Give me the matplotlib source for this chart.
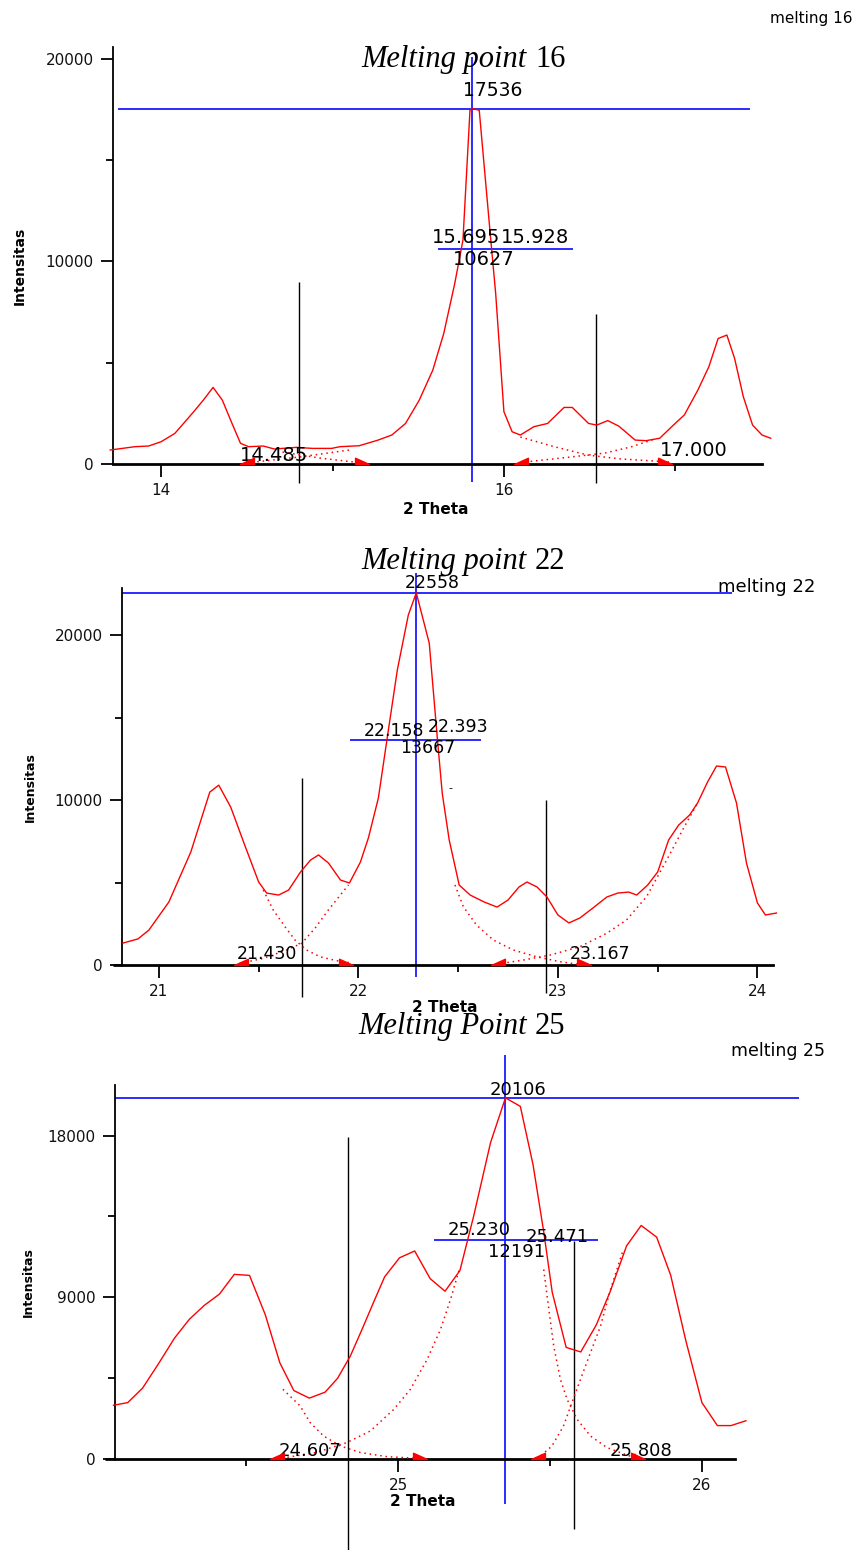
import numpy as np
import matplotlib.pyplot as plt

W, H = 857, 1550

# ---------------- melting point 16 ----------------
x16 = [13.703, 13.847, 13.927, 14.000, 14.080, 14.182, 14.246, 14.303, 14.357, 14.405,
       14.463, 14.510, 14.596, 14.660, 14.788, 14.884, 14.995, 15.043, 15.155, 15.266,
       15.346, 15.426, 15.506, 15.585, 15.649, 15.713, 15.761, 15.802, 15.815, 15.856,
       15.920, 15.952, 16.000, 16.048, 16.096, 16.175, 16.255, 16.351, 16.399, 16.494,
       16.542, 16.606, 16.670, 16.766, 16.829, 16.909, 16.989, 17.053, 17.132, 17.196,
       17.250, 17.301, 17.346, 17.397, 17.451, 17.506, 17.557]
y16 = [690, 854, 887, 1100, 1510, 2500, 3150, 3780, 3150, 2170,
       1020, 854, 887, 740, 820, 770, 770, 854, 900, 1180,
       1430, 2000, 3150, 4630, 6440, 8900, 11040, 17450, 17536, 17450,
       11370, 8410, 2580, 1590, 1430, 1840, 2000, 2790, 2790, 2000,
       1920, 2140, 1870, 1180, 1150, 1270, 1920, 2420, 3650, 4800,
       6190, 6360, 5210, 3320, 1920, 1430, 1270]
fits16 = [([14.499, 14.807, 15.098], [50, 345, 690]),
          ([14.708, 14.923, 15.173], [590, 296, 50]),
          ([16.096, 16.30, 16.49, 16.68, 16.97], [1330, 840, 440, 250, 100]),
          ([16.125, 16.39, 16.59, 16.74, 16.88], [100, 345, 540, 840, 1230])]
mk16_left = [14.50, 16.10]
mk16_right = [15.17, 16.94]

# ---------------- melting point 22 ----------------
x22 = [20.82, 20.895, 20.95, 21.05, 21.16, 21.255, 21.30, 21.36, 21.43, 21.50,
       21.54, 21.60, 21.65, 21.71, 21.76, 21.80, 21.85, 21.91, 21.955, 22.01,
       22.05, 22.10, 22.145, 22.195, 22.25, 22.29, 22.355, 22.395, 22.42, 22.455,
       22.505, 22.56, 22.63, 22.695, 22.75, 22.805, 22.845, 22.895, 22.945, 23.0,
       23.055, 23.11, 23.175, 23.245, 23.30, 23.355, 23.395, 23.45, 23.50, 23.555,
       23.605, 23.66, 23.70, 23.75, 23.795, 23.84, 23.895, 23.945, 24.0, 24.04, 24.095]
y22 = [1330, 1580, 2120, 3820, 6850, 10480, 10900, 9570, 7270, 5030,
       4360, 4240, 4540, 5640, 6360, 6670, 6180, 5150, 4970, 6240,
       7700, 10120, 13820, 17880, 21210, 22558, 19510, 13820, 10420, 7580,
       4850, 4240, 3820, 3510, 3940, 4730, 5030, 4730, 4120, 3030,
       2550, 2850, 3450, 4120, 4360, 4420, 4240, 4850, 5640, 7580,
       8480, 9090, 9820, 11090, 12060, 12000, 9820, 6180, 3760, 3030, 3150]
fits22 = [([21.523, 21.573, 21.632, 21.682, 21.740, 21.807, 21.891, 21.958],
           [4545, 3330, 2320, 1515, 910, 500, 260, 140]),
          ([21.406, 21.523, 21.640, 21.715, 21.782, 21.849, 21.916, 21.95],
           [100, 400, 910, 1310, 2220, 3330, 4340, 4850]),
          ([22.484, 22.526, 22.592, 22.676, 22.776, 22.893, 23.01, 23.127],
           [4850, 3530, 2420, 1515, 910, 500, 200, 0]),
          ([22.667, 22.826, 22.960, 23.110, 23.244, 23.344, 23.444, 23.545, 23.63, 23.70],
           [0, 300, 600, 1110, 1920, 2730, 4140, 6360, 8300, 9820])]
mk22_left = [21.41, 22.70]
mk22_right = [21.94, 23.13]

# ---------------- melting point 25 ----------------
x25 = [24.062, 24.109, 24.158, 24.212, 24.263, 24.312, 24.361, 24.411, 24.460, 24.510,
       24.562, 24.610, 24.656, 24.707, 24.759, 24.800, 24.842, 24.882, 24.918, 24.955,
       25.004, 25.054, 25.105, 25.154, 25.203, 25.248, 25.304, 25.353, 25.402, 25.444,
       25.480, 25.507, 25.553, 25.601, 25.652, 25.697, 25.752, 25.800, 25.851, 25.897,
       25.947, 26.000, 26.051, 26.096, 26.145]
y25 = [2990, 3140, 3950, 5350, 6730, 7780, 8550, 9180, 10280, 10220,
       8030, 5350, 3810, 3390, 3720, 4490, 5730, 7270, 8700, 10140,
       11200, 11580, 10040, 9340, 10490, 13500, 17620, 20106, 19630, 16370,
       12540, 9280, 6210, 5960, 7460, 9280, 11870, 13000, 12350, 10240,
       6590, 3140, 1860, 1860, 2130]
fits25 = [([24.62, 24.677, 24.71, 24.754, 24.81, 24.875, 24.963, 25.083],
           [3880, 2950, 2020, 1280, 720, 360, 130, 20]),
          ([24.60, 24.73, 24.83, 24.908, 24.985, 25.04, 25.095, 25.139, 25.172, 25.20],
           [0, 360, 910, 1560, 2760, 3880, 5540, 7210, 8880, 10500]),
          ([25.479, 25.496, 25.512, 25.534, 25.556, 25.589, 25.633, 25.688, 25.776],
           [10550, 8320, 6280, 4430, 3320, 2210, 1280, 630, 80]),
          ([25.457, 25.506, 25.544, 25.572, 25.60, 25.633, 25.666, 25.699, 25.74],
           [0, 720, 1830, 3140, 4430, 5920, 7400, 9440, 11600])]
mk25_left = [24.60, 25.46]
mk25_right = [25.07, 25.79]

RED = '#ff0000'
BLUE = '#1a1aff'
left_tri = [(1, 0), (1, 0.9), (-1, 0), (1, 0)]
right_tri = [(-1, 0), (-1, 0.9), (1, 0), (-1, 0)]

fig = plt.figure(figsize=(W / 100, H / 100), dpi=100)


def add_ax(l, r, t, b):
    return fig.add_axes([l / W, 1 - b / H, (r - l) / W, (b - t) / H])


def ftext(px, py, s, **kw):
    fig.text(px / W, 1 - py / H, s, **kw)


def style(ax, xlim, ylim, xmaj, xmin, ymaj, ymin, x_start):
    ax.set_xlim(xlim)
    ax.set_ylim(ylim)
    ax.patch.set_visible(False)
    ax.spines['top'].set_visible(False)
    ax.spines['right'].set_visible(False)
    ax.spines['left'].set_linewidth(1.3)
    ax.spines['bottom'].set_linewidth(2)
    # x axis line runs a little to the left of the y spine
    ax.plot([x_start, xlim[0]], [0, 0], color='black', lw=2, clip_on=False,
            solid_capstyle='butt')
    ax.set_xticks(xmaj)
    ax.set_xticks(xmin, minor=True)
    ax.set_yticks(ymaj)
    ax.set_yticks(ymin, minor=True)
    ax.set_xticklabels([str(v) for v in xmaj])
    ax.set_yticklabels([str(v) for v in ymaj])
    ax.tick_params(which='major', length=9, width=1.3, labelsize=11, pad=5,
                   labelcolor='#111111')
    ax.tick_params(which='minor', length=5, width=1.3)


def panel(ax, x, y, fits, mk_l, mk_r):
    ax.plot(x, y, color=RED, lw=1.0, clip_on=False, zorder=3)
    for fx, fy in fits:
        ax.plot(fx, fy, color=RED, lw=1.1, ls=(0, (1, 2.5)), clip_on=False, zorder=3)
    ax.plot(mk_l, [0] * len(mk_l), ls='none', marker=left_tri, ms=10,
            color=RED, clip_on=False, zorder=4)
    ax.plot(mk_r, [0] * len(mk_r), ls='none', marker=right_tri, ms=10,
            color=RED, clip_on=False, zorder=4)


# ---- panel 1 ----
ax1 = add_ax(113, 762, 47, 464)
style(ax1, (13.719, 17.506), (0, 20570), [14, 16], [15, 17],
      [0, 10000, 20000], [5000, 15000], 13.719)
panel(ax1, x16, y16, fits16, mk16_left, mk16_right)
ax1.hlines(17536, 13.751, 17.435, color=BLUE, lw=1.3, clip_on=False)
ax1.vlines(15.815, -870, 20080, color=BLUE, lw=1.3, clip_on=False)
ax1.hlines(10627, 15.617, 16.405, color=BLUE, lw=1.3, clip_on=False)
ax1.vlines([14.807, 16.536], [-920, -920], [8990, 7390], color='black', lw=1.0, clip_on=False)
ax1.text(15.936, 18400, '17536', ha='center', va='center', fontsize=13.5)
ax1.text(15.777, 11150, '15.695', ha='center', va='center', fontsize=14)
ax1.text(16.18, 11150, '15.928', ha='center', va='center', fontsize=14)
ax1.text(15.882, 10090, '10627', ha='center', va='center', fontsize=14)
ax1.text(14.66, 440, '14.485', ha='center', va='center', fontsize=14)
ax1.text(17.107, 660, '17.000', ha='center', va='center', fontsize=14)

# ---- panel 2 ----
ax2 = add_ax(122, 773, 588, 965)
style(ax2, (20.815, 24.078), (0, 22850), [21, 22, 23, 24], [21.5, 22.5, 23.5],
      [0, 10000, 20000], [5000, 15000], 20.77)
panel(ax2, x22, y22, fits22, mk22_left, mk22_right)
ax2.hlines(22558, 20.815, 23.87, color=BLUE, lw=1.3, clip_on=False)
ax2.vlines(22.29, -710, 23740, color=BLUE, lw=1.3, clip_on=False)
ax2.hlines(13667, 21.957, 22.613, color=BLUE, lw=1.3, clip_on=False)
ax2.vlines([21.715, 22.94], [-1920, -1700], [11310, 10000], color='black', lw=1.0,
           clip_on=False)
ax2.text(22.37, 23170, '22558', ha='center', va='center', fontsize=12.5)
ax2.text(22.18, 14180, '22.158', ha='center', va='center', fontsize=12.5)
ax2.text(22.50, 14440, '22.393', ha='center', va='center', fontsize=12.5)
ax2.text(22.35, 13170, '13667', ha='center', va='center', fontsize=12.5)
ax2.text(22.46, 10730, '-', ha='center', va='center', fontsize=8)
ax2.text(21.54, 650, '21.430', ha='center', va='center', fontsize=12.5)
ax2.text(23.21, 650, '23.167', ha='center', va='center', fontsize=12.5)

# ---- panel 3 ----
ax3 = add_ax(115, 735, 1085, 1459)
style(ax3, (24.067, 26.109), (0, 20820), [25, 26], [24.5, 25.5],
      [0, 9000, 18000], [4500, 13500], 24.035)
panel(ax3, x25, y25, fits25, mk25_left, mk25_right)
ax3.hlines(20106, 24.067, 26.32, color=BLUE, lw=1.3, clip_on=False)
ax3.vlines(25.353, -2510, 22500, color=BLUE, lw=1.3, clip_on=False)
ax3.hlines(12191, 25.118, 25.658, color=BLUE, lw=1.3, clip_on=False)
ax3.vlines([24.835, 25.58], [-5060, -3910], [17900, 12115], color='black', lw=1.0,
           clip_on=False)
ax3.text(25.395, 20530, '20106', ha='center', va='center', fontsize=13)
ax3.text(25.266, 12730, '25.230', ha='center', va='center', fontsize=13)
ax3.text(25.522, 12380, '25.471', ha='center', va='center', fontsize=13)
ax3.text(25.39, 11520, '12191', ha='center', va='center', fontsize=13)
ax3.text(24.71, 420, '24.607', ha='center', va='center', fontsize=13)
ax3.text(25.80, 420, '25.808', ha='center', va='center', fontsize=13)

# ---- titles and axis labels ----
serif = 'Liberation Serif'
for num, py, word in [('16', 67, 'point'), ('22', 569, 'point'), ('25', 1034, 'Point')]:
    ftext(527, py, 'Melting ' + word, ha='right', va='baseline', fontsize=22,
          family=serif, style='italic')
    ftext(535, py, num, ha='left', va='baseline', fontsize=22, family=serif)

ftext(853, 18, 'melting 16', ha='right', va='center', fontsize=11)
ftext(718, 587, 'melting 22', ha='left', va='center', fontsize=13)
ftext(731, 1051, 'melting 25', ha='left', va='center', fontsize=12.5)

for px, py, fs in [(20, 266, 10), (30, 787, 9), (28, 1282, 9)]:
    ftext(px, py, 'Intensitas', rotation=90, ha='center', va='center',
          fontsize=fs, fontweight='bold')
for px, py in [(436, 510), (445, 1007), (423, 1501)]:
    ftext(px, py, '2 Theta', ha='center', va='center', fontsize=11, fontweight='bold')

fig.savefig('out.png', dpi=100)
